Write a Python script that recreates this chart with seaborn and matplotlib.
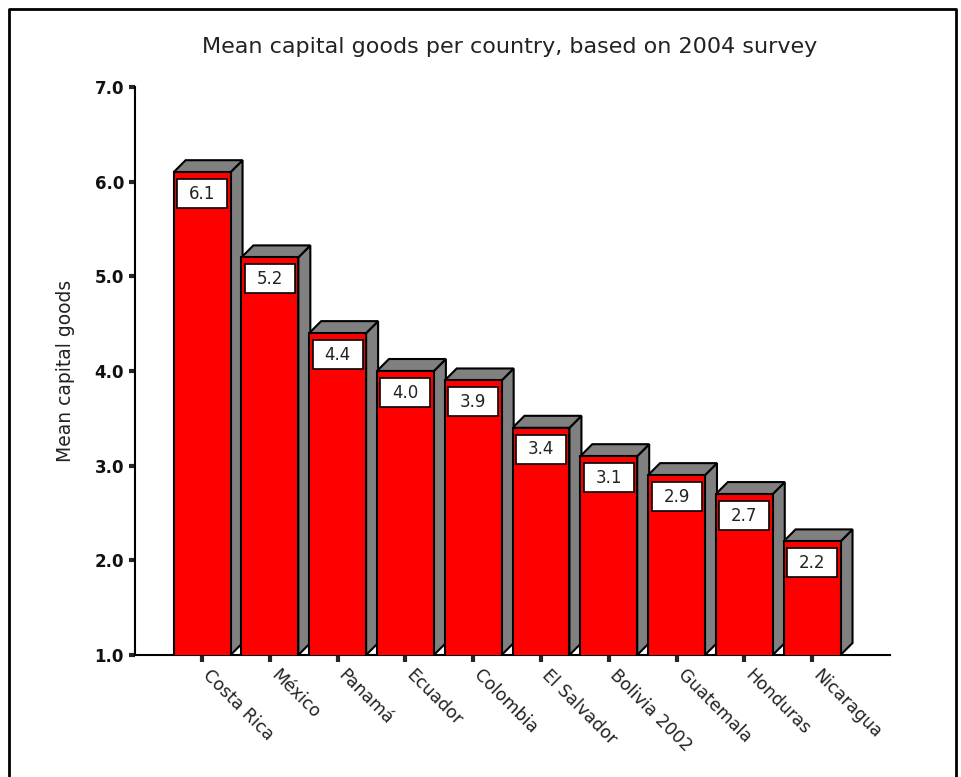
import matplotlib.pyplot as plt
import matplotlib.transforms as mtransforms
import seaborn as sns
import pandas as pd
from matplotlib.patches import Polygon, Rectangle
from matplotlib.lines import Line2D

countries = ["Costa Rica", "México", "Panamá", "Ecuador", "Colombia",
             "El Salvador", "Bolivia 2002", "Guatemala", "Honduras", "Nicaragua"]
means = [6.1, 5.2, 4.4, 4.0, 3.9, 3.4, 3.1, 2.9, 2.7, 2.2]
y_ticks = [1.0, 2.0, 3.0, 4.0, 5.0, 6.0, 7.0]

df = pd.DataFrame({"country": countries, "mean": means})

sns.set_style("white")
plt.rcParams['font.family'] = ['DejaVu Sans']

W, H = 961, 777
fig = plt.figure(figsize=(W / 100, H / 100), dpi=100)
ax = fig.add_axes([135 / W, 1 - 655 / H, (890 - 135) / W, (655 - 87) / H])

bar_w = 0.84
sns.barplot(data=df, x="country", y="mean", color="#ff0000", width=bar_w,
            edgecolor="black", linewidth=1.5, saturation=1, ax=ax, zorder=3)
for p in ax.patches:
    p.set_facecolor("#ff0000")

ax.set_xlim(-0.99, 10.15)
ax.set_ylim(1, 7)

# depth of 3d effect, in data units (~12 px each way)
ax_w_px = 890 - 135
ax_h_px = 655 - 87
dx = 12 / ax_w_px * (10.15 + 0.99)
dy = 12 / ax_h_px * 6
box_w = 50 / ax_w_px * (10.15 + 0.99)
box_h = 29 / ax_h_px * 6
box_gap = 7 / ax_h_px * 6

base = 1.0
for i, v in enumerate(means):
    xl = i - bar_w / 2
    xr = i + bar_w / 2
    side = Polygon([(xr, base), (xr, v), (xr + dx, v + dy), (xr + dx, base + dy)],
                   closed=True, facecolor="#808080", edgecolor="black", lw=1.5, zorder=2.5 - i * 0.01)
    top = Polygon([(xl, v), (xl + dx, v + dy), (xr + dx, v + dy), (xr, v)],
                  closed=True, facecolor="#808080", edgecolor="black", lw=1.5, zorder=2.5 - i * 0.01)
    ax.add_patch(side)
    ax.add_patch(top)
    ax.add_patch(Rectangle((i - box_w / 2, v - box_gap - box_h), box_w, box_h,
                           facecolor="white", edgecolor="black", lw=1.2, zorder=4))
    ax.text(i, v - box_gap - box_h / 2, f"{v:.1f}", ha="center", va="center",
            fontsize=12, zorder=5, color="#222222")

sns.despine(ax=ax)
for s in ["left", "bottom"]:
    ax.spines[s].set_linewidth(1.5)
    ax.spines[s].set_color("black")

ax.set_yticks(y_ticks)
ax.set_yticklabels([f"{t:.1f}" for t in y_ticks], fontsize=12, fontweight="bold", color="#111111")
ax.tick_params(axis="y", direction="out", length=4, width=3, pad=4, left=True)
ax.tick_params(axis="x", direction="out", length=5, width=3, pad=3, bottom=True)
ax.set_xticks(range(len(countries)))
ax.set_xticklabels(countries, rotation=-45, ha="left", va="top",
                   rotation_mode="anchor", fontsize=12.5, color="#222222")
shift = mtransforms.ScaledTranslation(10 / 100, 0, fig.dpi_scale_trans)
for lab in ax.get_xticklabels():
    lab.set_transform(lab.get_transform() + shift)

ax.set_xlabel("")
ax.set_ylabel("Mean capital goods", fontsize=13.5, color="#222222")
ax.yaxis.set_label_coords(-0.08, 0.5)

fig.text(0.53, 1 - 47 / H, "Mean capital goods per country, based on 2004 survey",
         ha="center", va="center", fontsize=16, color="#222222")

# outer frame
fx = [9 / W, 9 / W, 956 / W, 956 / W]
fy = [0, 1 - 9 / H, 1 - 9 / H, 0]
fig.add_artist(Line2D(fx, fy, color="black", lw=2, transform=fig.transFigure))

fig.savefig("out.png", dpi=100)
